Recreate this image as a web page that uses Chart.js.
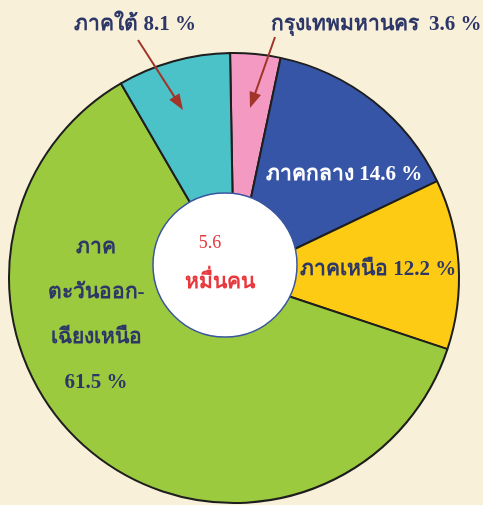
<!DOCTYPE html>
<html>
<head>
<meta charset="utf-8">
<script src="https://cdn.jsdelivr.net/npm/chart.js@4.4.0/dist/chart.umd.min.js"></script>
<style>
  html, body { margin: 0; padding: 0; background: #f9f0da; }
  #wrap { width: 483px; height: 505px; }
</style>
</head>
<body>
<div id="wrap"><canvas id="pieChart"></canvas></div>
<script>
// region shares of population (%), clockwise from the top
var regions = ['กรุงเทพมหานคร', 'ภาคกลาง', 'ภาคเหนือ', 'ภาคตะวันออกเฉียงเหนือ', 'ภาคใต้'];
var shares = [3.6, 14.6, 12.2, 61.5, 8.1];
var sliceColors = ['#f49ac2', '#3655a6', '#fecb14', '#9bca3e', '#4bc2c8'];
var totalText = ['5.6', 'หมื่นคน'];

var thaiFont = '"Liberation Serif", "DejaVu Serif", serif';
var navy = '#2c3768';

// labels: [lines, dx, dy from centre, colour]
var labelSpecs = [
  { lines: [regions[0] + '  ' + shares[0] + ' %'], dx: 142, dy: -253, color: navy },
  { lines: [regions[1] + ' ' + shares[1] + ' %'], dx: 110, dy: -103, color: '#ffffff' },
  { lines: [regions[2] + ' ' + shares[2] + ' %'], dx: 144, dy: -8, color: navy },
  { lines: ['ภาค', 'ตะวันออก-', 'เฉียงเหนือ', shares[3] + ' %'], dx: -138, dy: -30, color: navy, gap: 45 },
  { lines: [regions[4] + ' ' + shares[4] + ' %'], dx: -99, dy: -253, color: navy }
];

var extras = {
  id: 'extras',
  afterDatasetsDraw: function(chart) {
    var ctx = chart.ctx;
    var arc = chart.getDatasetMeta(0).data[0];
    var cx = arc.x, cy = arc.y;

    // white centre disc
    ctx.save();
    ctx.beginPath();
    ctx.arc(cx - 9, cy - 13, 72, 0, Math.PI * 2);
    ctx.fillStyle = '#ffffff';
    ctx.fill();
    ctx.lineWidth = 1.5;
    ctx.strokeStyle = '#3a56a0';
    ctx.stroke();

    // centre text
    ctx.textAlign = 'center';
    ctx.textBaseline = 'middle';
    ctx.fillStyle = '#e8383d';
    ctx.font = '18px ' + thaiFont;
    ctx.fillText(totalText[0], cx - 24, cy - 35);
    ctx.font = 'bold 21px ' + thaiFont;
    ctx.fillText(totalText[1], cx - 14, cy + 5);

    // slice labels
    labelSpecs.forEach(function(s) {
      ctx.fillStyle = s.color;
      ctx.font = 'bold 21px ' + thaiFont;
      ctx.textAlign = 'center';
      s.lines.forEach(function(line, i) {
        ctx.fillText(line, cx + s.dx, cy + s.dy + i * (s.gap || 0));
      });
    });

    // arrows
    function arrow(x1, y1, x2, y2) {
      var a = Math.atan2(y2 - y1, x2 - x1);
      ctx.strokeStyle = '#a1352a';
      ctx.fillStyle = '#a1352a';
      ctx.lineWidth = 2;
      ctx.beginPath();
      ctx.moveTo(x1, y1);
      ctx.lineTo(x2 - 10 * Math.cos(a), y2 - 10 * Math.sin(a));
      ctx.stroke();
      ctx.beginPath();
      ctx.moveTo(x2, y2);
      ctx.lineTo(x2 - 16 * Math.cos(a) + 6 * Math.sin(a), y2 - 16 * Math.sin(a) - 6 * Math.cos(a));
      ctx.lineTo(x2 - 16 * Math.cos(a) - 6 * Math.sin(a), y2 - 16 * Math.sin(a) + 6 * Math.cos(a));
      ctx.closePath();
      ctx.fill();
    }
    arrow(cx - 96, cy - 238, cx - 51, cy - 168);
    arrow(cx + 41, cy - 241, cx + 16, cy - 170);
    ctx.restore();
  }
};

new Chart(document.getElementById('pieChart'), {
  type: 'pie',
  data: {
    labels: regions,
    datasets: [{
      data: shares,
      backgroundColor: sliceColors,
      borderColor: '#1e1e1e',
      borderWidth: 2
    }]
  },
  options: {
    responsive: true,
    maintainAspectRatio: false,
    animation: false,
    rotation: -1,
    layout: { padding: { left: 8, right: 23, top: 52, bottom: 1 } },
    plugins: {
      legend: { display: false },
      tooltip: { enabled: false }
    }
  },
  plugins: [extras]
});
</script>
</body>
</html>
